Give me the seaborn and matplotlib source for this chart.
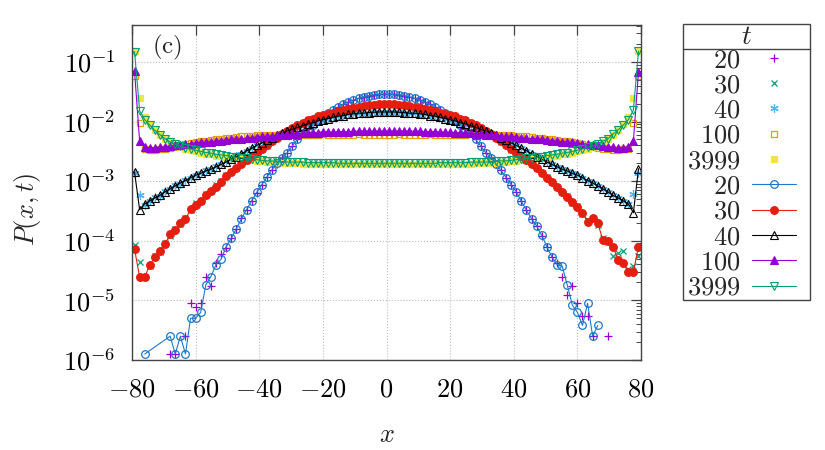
import numpy as np
import pandas as pd
import seaborn as sns
import matplotlib
matplotlib.use("Agg")
import matplotlib.pyplot as plt
from matplotlib.lines import Line2D
from matplotlib.patches import Rectangle
from matplotlib.ticker import FixedLocator, FuncFormatter, LogLocator, NullFormatter, NullLocator

# lattice sites (x) shared by every curve
x_sites = np.round(np.linspace(-79.2, 79.2, 100), 1)

nan = np.nan
# log10 P(x,t); nan = empty site (not drawn on log axis)
# --- simulation points ---
logp_pts_20 = [nan, nan, nan, nan, nan, nan, nan, -5.90, -5.90, nan,
               -5.60, -5.05, -5.11, -5.05, -4.61, -4.76, -4.38, -4.22, -4.12, -3.95,
               -3.81, -3.62, -3.49, -3.33, -3.20, -3.06, -2.93, -2.81, -2.71, -2.61,
               -2.52, -2.41, -2.30, -2.21, -2.12, -2.05, -1.98, -1.92, -1.86, -1.81,
               -1.76, -1.71, -1.67, -1.64, -1.61, -1.585, -1.565, -1.55, -1.545, -1.54,
               -1.54, -1.545, -1.55, -1.565, -1.585, -1.61, -1.64, -1.67, -1.71, -1.76,
               -1.81, -1.86, -1.92, -1.98, -2.05, -2.12, -2.20, -2.30, -2.41, -2.52,
               -2.61, -2.71, -2.82, -2.94, -3.06, -3.19, -3.33, -3.48, -3.63, -3.76,
               -3.92, -4.10, -4.27, -4.38, -4.60, -4.91, -4.76, -5.05, -5.27, -5.27,
               -5.60, nan, nan, -5.60, nan, nan, nan, nan, nan, nan]
logp_pts_30 = [-4.07, -4.35, -4.61, -4.42, -4.26, -4.19, -4.03, -3.92, -3.80, -3.72,
               -3.62, -3.48, -3.37, -3.33, -3.22, -3.17, -3.06, -2.99, -2.90, -2.84,
               -2.78, -2.70, -2.65, -2.58, -2.53, -2.46, -2.41, -2.33, -2.28, -2.21,
               -2.17, -2.11, -2.07, -2.02, -1.99, -1.95, -1.92, -1.89, -1.87, -1.85,
               -1.83, -1.81, -1.79, -1.77, -1.75, -1.74, -1.73, -1.72, -1.71, -1.71,
               -1.71, -1.71, -1.72, -1.73, -1.74, -1.75, -1.77, -1.79, -1.81, -1.83,
               -1.85, -1.87, -1.89, -1.92, -1.95, -1.98, -2.02, -2.07, -2.11, -2.16,
               -2.22, -2.27, -2.34, -2.40, -2.47, -2.52, -2.59, -2.64, -2.72, -2.78,
               -2.87, -2.93, -3.02, -3.09, -3.19, -3.25, -3.36, -3.42, -3.55, -3.66,
               -3.63, -3.73, -3.96, -4.02, -4.26, -4.20, -4.17, -4.48, -4.43, -4.26]
logp_pts_40 = [-2.87, -3.24, -3.40, -3.34, -3.27, -3.25, -3.17, -3.14, -3.07, -3.04,
               -2.98, -2.95, -2.89, -2.87, -2.82, -2.80, -2.75, -2.72, -2.67, -2.63,
               -2.58, -2.54, -2.49, -2.44, -2.40, -2.35, -2.31, -2.27, -2.22, -2.19,
               -2.16, -2.12, -2.10, -2.07, -2.04, -2.01, -1.99, -1.97, -1.95, -1.93,
               -1.91, -1.90, -1.88, -1.87, -1.86, -1.86, -1.85, -1.845, -1.84, -1.84,
               -1.84, -1.84, -1.845, -1.85, -1.86, -1.86, -1.87, -1.88, -1.90, -1.91,
               -1.93, -1.95, -1.97, -1.99, -2.02, -2.04, -2.07, -2.10, -2.13, -2.16,
               -2.19, -2.23, -2.27, -2.31, -2.36, -2.40, -2.45, -2.49, -2.54, -2.59,
               -2.63, -2.68, -2.72, -2.76, -2.80, -2.83, -2.87, -2.90, -2.94, -2.99,
               -3.03, -3.08, -3.13, -3.18, -3.24, -3.28, -3.33, -3.38, -3.21, -2.87]
logp_pts_100 = [-1.23, -2.02, -2.46, -2.47, -2.47, -2.46, -2.46, -2.45, -2.43, -2.41,
                -2.38, -2.36, -2.34, -2.33, -2.32, -2.31, -2.30, -2.29, -2.28, -2.27,
                -2.26, -2.25, -2.24, -2.24, -2.23, -2.23, -2.23, -2.22, -2.22, -2.22,
                -2.22, -2.21, -2.22, -2.22, -2.23, -2.22, -2.22, -2.21, -2.22, -2.22,
                -2.22, -2.23, -2.22, -2.22, -2.21, -2.22, -2.22, -2.22, -2.23, -2.22,
                -2.22, -2.22, -2.21, -2.22, -2.22, -2.23, -2.22, -2.22, -2.21, -2.22,
                -2.22, -2.22, -2.23, -2.22, -2.22, -2.22, -2.21, -2.22, -2.22, -2.22,
                -2.22, -2.22, -2.23, -2.23, -2.23, -2.24, -2.24, -2.25, -2.26, -2.27,
                -2.28, -2.29, -2.30, -2.31, -2.32, -2.33, -2.34, -2.36, -2.38, -2.41,
                -2.43, -2.45, -2.46, -2.46, -2.47, -2.47, -2.46, -2.46, -2.02, -1.23]
logp_pts_3999 = [-0.82, -1.60, -1.92, -2.04, -2.14, -2.22, -2.30, -2.35, -2.39, -2.43,
                 -2.46, -2.48, -2.50, -2.52, -2.54, -2.55, -2.57, -2.58, -2.59, -2.61,
                 -2.62, -2.63, -2.64, -2.65, -2.66, -2.67, -2.68, -2.68, -2.69, -2.69,
                 -2.70, -2.70, -2.70, -2.71, -2.71, -2.71, -2.71, -2.71, -2.72, -2.72,
                 -2.72, -2.72, -2.72, -2.72, -2.72, -2.72, -2.72, -2.72, -2.72, -2.72,
                 -2.72, -2.72, -2.72, -2.72, -2.72, -2.72, -2.72, -2.72, -2.72, -2.72,
                 -2.72, -2.72, -2.71, -2.71, -2.71, -2.71, -2.71, -2.70, -2.70, -2.70,
                 -2.69, -2.69, -2.68, -2.68, -2.67, -2.66, -2.65, -2.64, -2.63, -2.62,
                 -2.61, -2.59, -2.58, -2.57, -2.55, -2.54, -2.52, -2.50, -2.48, -2.46,
                 -2.43, -2.39, -2.35, -2.30, -2.22, -2.14, -2.04, -1.92, -1.60, -0.82]
# --- theory curves ---
logp_line_20 = [nan, nan, -5.90, nan, nan, nan, nan, -5.60, -5.90, -5.60,
                -5.90, -5.30, -5.30, -5.20, -4.74, -4.60, -4.40, -4.31, -4.10, -3.96,
                -3.80, -3.63, -3.48, -3.33, -3.19, -3.06, -2.93, -2.81, -2.70, -2.61,
                -2.52, -2.41, -2.30, -2.20, -2.12, -2.05, -1.98, -1.92, -1.86, -1.81,
                -1.76, -1.71, -1.67, -1.64, -1.61, -1.585, -1.565, -1.55, -1.545, -1.54,
                -1.54, -1.545, -1.55, -1.565, -1.585, -1.61, -1.64, -1.67, -1.71, -1.76,
                -1.81, -1.86, -1.92, -1.98, -2.05, -2.12, -2.20, -2.30, -2.41, -2.52,
                -2.61, -2.71, -2.82, -2.94, -3.06, -3.18, -3.34, -3.49, -3.63, -3.75,
                -3.91, -4.10, -4.27, -4.40, -4.42, -4.74, -5.08, -5.20, -5.42, -5.05,
                -5.60, -5.42, nan, nan, nan, nan, nan, nan, nan, nan]
logp_line_30 = [-4.14, -4.61, -4.61, -4.40, -4.28, -4.17, -4.05, -3.89, -3.82, -3.70,
                -3.64, -3.47, -3.40, -3.33, -3.24, -3.16, -3.09, -3.01, -2.92, -2.85,
                -2.78, -2.71, -2.64, -2.58, -2.52, -2.46, -2.40, -2.33, -2.27, -2.21,
                -2.16, -2.11, -2.06, -2.02, -1.98, -1.95, -1.91, -1.89, -1.87, -1.85,
                -1.83, -1.81, -1.79, -1.77, -1.75, -1.74, -1.73, -1.72, -1.71, -1.71,
                -1.71, -1.71, -1.72, -1.73, -1.74, -1.75, -1.77, -1.79, -1.81, -1.83,
                -1.85, -1.87, -1.89, -1.91, -1.95, -1.98, -2.02, -2.06, -2.11, -2.16,
                -2.21, -2.27, -2.33, -2.40, -2.46, -2.52, -2.58, -2.64, -2.71, -2.78,
                -2.86, -2.94, -3.01, -3.10, -3.18, -3.26, -3.35, -3.43, -3.53, -3.68,
                -3.61, -3.71, -3.98, -4.00, -4.10, -4.32, -4.38, -4.52, -4.52, -4.10]
logp_line_40 = [-2.85, -3.48, -3.38, -3.33, -3.28, -3.24, -3.18, -3.13, -3.08, -3.03,
                -2.99, -2.94, -2.90, -2.87, -2.83, -2.80, -2.76, -2.72, -2.68, -2.63,
                -2.59, -2.54, -2.49, -2.45, -2.40, -2.36, -2.31, -2.27, -2.23, -2.19,
                -2.16, -2.13, -2.10, -2.07, -2.04, -2.02, -1.99, -1.97, -1.95, -1.93,
                -1.91, -1.90, -1.88, -1.87, -1.86, -1.86, -1.85, -1.845, -1.84, -1.84,
                -1.84, -1.84, -1.845, -1.85, -1.86, -1.86, -1.87, -1.88, -1.90, -1.91,
                -1.93, -1.95, -1.97, -1.99, -2.02, -2.04, -2.07, -2.10, -2.13, -2.16,
                -2.19, -2.23, -2.27, -2.31, -2.36, -2.40, -2.45, -2.49, -2.54, -2.59,
                -2.63, -2.68, -2.72, -2.76, -2.80, -2.83, -2.87, -2.90, -2.94, -2.99,
                -3.03, -3.08, -3.13, -3.18, -3.24, -3.28, -3.33, -3.38, -3.53, -2.79]
logp_line_100 = [-1.16, -2.33, -2.43, -2.44, -2.44, -2.43, -2.42, -2.41, -2.40, -2.39,
                 -2.38, -2.37, -2.36, -2.35, -2.35, -2.34, -2.33, -2.32, -2.31, -2.30,
                 -2.29, -2.29, -2.28, -2.27, -2.26, -2.25, -2.25, -2.24, -2.23, -2.22,
                 -2.22, -2.21, -2.21, -2.20, -2.20, -2.19, -2.19, -2.18, -2.18, -2.18,
                 -2.17, -2.17, -2.17, -2.165, -2.16, -2.16, -2.16, -2.16, -2.16, -2.16,
                 -2.16, -2.16, -2.16, -2.16, -2.16, -2.16, -2.165, -2.17, -2.17, -2.17,
                 -2.18, -2.18, -2.18, -2.19, -2.19, -2.20, -2.20, -2.21, -2.21, -2.22,
                 -2.22, -2.23, -2.24, -2.25, -2.25, -2.26, -2.27, -2.28, -2.29, -2.29,
                 -2.30, -2.31, -2.32, -2.33, -2.34, -2.35, -2.35, -2.36, -2.37, -2.38,
                 -2.39, -2.40, -2.41, -2.42, -2.43, -2.44, -2.44, -2.43, -2.33, -1.17]
logp_line_3999 = [-0.83, -1.82, -1.97, -2.06, -2.15, -2.22, -2.29, -2.34, -2.38, -2.41,
                  -2.44, -2.46, -2.48, -2.50, -2.52, -2.53, -2.55, -2.56, -2.57, -2.59,
                  -2.60, -2.61, -2.62, -2.63, -2.64, -2.65, -2.66, -2.66, -2.67, -2.67,
                  -2.68, -2.68, -2.68, -2.68, -2.69, -2.69, -2.69, -2.69, -2.69, -2.69,
                  -2.70, -2.70, -2.70, -2.70, -2.70, -2.70, -2.70, -2.70, -2.70, -2.70,
                  -2.70, -2.70, -2.70, -2.70, -2.70, -2.70, -2.70, -2.70, -2.70, -2.70,
                  -2.69, -2.69, -2.69, -2.69, -2.69, -2.69, -2.68, -2.68, -2.68, -2.68,
                  -2.67, -2.67, -2.66, -2.66, -2.65, -2.64, -2.63, -2.62, -2.61, -2.60,
                  -2.59, -2.57, -2.56, -2.55, -2.53, -2.52, -2.50, -2.48, -2.46, -2.43,
                  -2.41, -2.38, -2.33, -2.29, -2.21, -2.14, -2.06, -1.97, -1.81, -0.82]

times = ["20", "30", "40", "100", "3999"]

# styles (gnuplot-like)
pts_style = {
    "20": dict(marker="+", color="#9400D3", ms=6, mew=0.9, mfc="none"),
    "30": dict(marker="x", color="#009E73", ms=5, mew=0.9, mfc="none"),
    "40": dict(marker=(6, 2, 0), color="#56B4E9", ms=6, mew=0.9, mfc="none"),
    "100": dict(marker="s", color="#E69F00", ms=5, mew=0.9, mfc="none"),
    "3999": dict(marker="s", color="#F0E442", ms=5, mew=0.9, mfc="#F0E442"),
}
line_style = {
    "20": dict(marker="o", color="#1f78c8", ms=5.5, mew=0.9, mfc="none"),
    "30": dict(marker="o", color="#E51E10", ms=5.5, mew=0.9, mfc="#E51E10"),
    "40": dict(marker="^", color="black", ms=5.5, mew=0.8, mfc="none"),
    "100": dict(marker="^", color="#9400D3", ms=5.5, mew=0.8, mfc="#9400D3"),
    "3999": dict(marker="v", color="#009E73", ms=5.5, mew=0.8, mfc="none"),
}
pts_data = dict(zip(times, [logp_pts_20, logp_pts_30, logp_pts_40, logp_pts_100, logp_pts_3999]))
line_data = dict(zip(times, [logp_line_20, logp_line_30, logp_line_40, logp_line_100, logp_line_3999]))

sns.set_style("white")
plt.rcParams["mathtext.fontset"] = "cm"
plt.rcParams["font.family"] = ["DejaVu Serif"]

fig = plt.figure(figsize=(8.25, 4.5), dpi=100)
ax = fig.add_axes([0.16, 0.2, 0.617, 0.745])
ax.set_yscale("log")

for t in times:
    df = pd.DataFrame({"x": x_sites, "P": 10.0 ** np.array(pts_data[t])}).dropna()
    st = pts_style[t]
    sns.lineplot(data=df, x="x", y="P", ax=ax, sort=False, estimator=None,
                 linestyle="", marker=st["marker"], markersize=st["ms"],
                 markeredgewidth=st["mew"], markeredgecolor=st["color"],
                 markerfacecolor=st["mfc"], color=st["color"])

for t in times:
    df = pd.DataFrame({"x": x_sites, "P": 10.0 ** np.array(line_data[t])}).dropna()
    st = line_style[t]
    sns.lineplot(data=df, x="x", y="P", ax=ax, sort=False, estimator=None,
                 linewidth=0.8, marker=st["marker"], markersize=st["ms"],
                 markeredgewidth=st["mew"], markeredgecolor=st["color"],
                 markerfacecolor=st["mfc"], color=st["color"])

ax.set_xlim(-80, 80)
ax.set_ylim(1e-6, 0.42)
ax.xaxis.set_major_locator(FixedLocator([-80, -60, -40, -20, 0, 20, 40, 60, 80]))
ax.xaxis.set_minor_locator(NullLocator())
ax.xaxis.set_major_formatter(FuncFormatter(lambda v, p: f"${v:g}$"))
ax.yaxis.set_major_locator(LogLocator(base=10, numticks=20))
ax.yaxis.set_minor_locator(LogLocator(base=10, subs=np.arange(2, 10), numticks=20))
ax.yaxis.set_major_formatter(FuncFormatter(lambda v, p: f"$10^{{{int(round(np.log10(v)))}}}$"))
ax.yaxis.set_minor_formatter(NullFormatter())
ax.tick_params(which="both", direction="in", top=True, right=True, colors="#444444",
               labelcolor="black", labelsize=19)
ax.tick_params(which="major", length=7, width=0.9)
ax.tick_params(which="minor", length=3.5, width=0.7)
ax.tick_params(axis="x", pad=12)
ax.tick_params(axis="y", pad=12)
ax.grid(True, which="major", linestyle=":", color="#bbbbbb", linewidth=0.8)
for sp in ax.spines.values():
    sp.set_color("#444444")
    sp.set_linewidth(1.0)

ax.set_xlabel(r"$x$", fontsize=19)
ax.set_ylabel(r"$P(x,t)$", fontsize=19)
ax.xaxis.set_label_coords(0.5, -0.185)
ax.yaxis.set_label_coords(-0.175, 0.45)
ax.text(0.069, 0.933, r"$\mathrm{(c)}$", transform=ax.transAxes, fontsize=18,
        ha="center", va="center")

# legend: points first, then curves (labels left of the samples, right aligned)
handles, labels = [], []
for t in times:
    st = pts_style[t]
    handles.append(Line2D([], [], linestyle="", marker=st["marker"], markersize=st["ms"],
                          markeredgewidth=st["mew"], markeredgecolor=st["color"],
                          markerfacecolor=st["mfc"]))
    labels.append(f"${t}$")
for t in times:
    st = line_style[t]
    handles.append(Line2D([], [], color=st["color"], linewidth=0.8, marker=st["marker"],
                          markersize=st["ms"], markeredgewidth=st["mew"],
                          markeredgecolor=st["color"], markerfacecolor=st["mfc"]))
    labels.append(f"${t}$")

leg = fig.legend(handles, labels, loc="upper right", bbox_to_anchor=(796 / 825, 1 - 47 / 450),
                 bbox_transform=fig.transFigure, fontsize=19, markerfirst=False,
                 frameon=False, handlelength=1.65, handletextpad=0.45,
                 labelspacing=0.012, borderpad=0.0, borderaxespad=0)

# gnuplot-style key box with title row
W, H = fig.bbox.width, fig.bbox.height
fig.add_artist(Rectangle((683 / W, 1 - 300 / H), 127 / W, 276 / H, transform=fig.transFigure,
                         fill=False, edgecolor="#444444", linewidth=1.0))
fig.add_artist(Line2D([683 / W, 810 / W], [1 - 49 / H, 1 - 49 / H], transform=fig.transFigure,
                      color="#444444", linewidth=1.0))
fig.text(746 / W, 1 - 36 / H, r"$t$", fontsize=19.5, ha="center", va="center")

fig.savefig("out.png", dpi=100)
